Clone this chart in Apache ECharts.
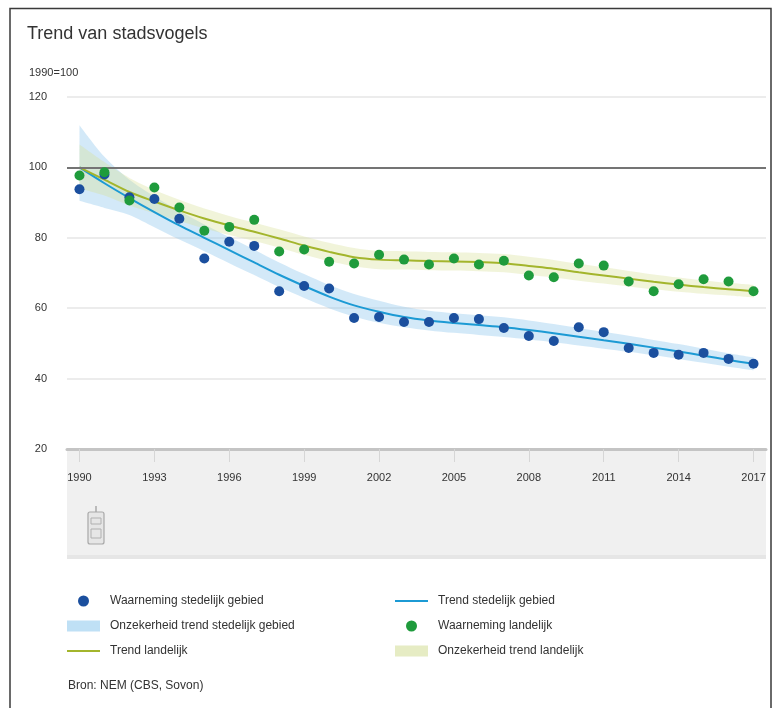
<!DOCTYPE html>
<html>
<head>
<meta charset="utf-8">
<script src="https://cdn.jsdelivr.net/npm/echarts@6/dist/echarts.min.js"></script>
<style>html,body{margin:0;padding:0;background:#fff;}#c{width:784px;height:708px;}</style>
</head>
<body>
<div id="c"></div>
<script>
var years = ['1990','1991','1992','1993','1994','1995','1996','1997','1998','1999','2000','2001','2002','2003','2004','2005','2006','2007','2008','2009','2010','2011','2012','2013','2014','2015','2016','2017'];
var stedelijkObs = [93.8, 98.0, 91.5, 91.0, 85.4, 74.1, 78.9, 77.7, 64.8, 66.3, 65.6, 57.2, 57.5, 56.1, 56.1, 57.2, 56.9, 54.4, 52.1, 50.7, 54.6, 53.2, 48.7, 47.3, 46.8, 47.3, 45.6, 44.2];
var landelijkObs = [97.7, 98.6, 90.6, 94.3, 88.6, 82.0, 83.1, 85.1, 76.1, 76.7, 73.2, 72.7, 75.2, 73.8, 72.4, 74.1, 72.4, 73.5, 69.3, 68.8, 72.7, 72.1, 67.6, 64.8, 66.8, 68.2, 67.6, 64.8];
var stedelijkTrend = [100, 95.5, 91.3, 87.3, 83.5, 80, 76.5, 73, 69.5, 66.3, 63.3, 60.8, 59, 57.5, 56.5, 55.8, 55.2, 54.6, 53.8, 52.9, 51.9, 50.9, 49.9, 48.8, 47.7, 46.5, 45.3, 44.2];
var landelijkTrend = [100, 96.5, 93, 90.3, 87.8, 85.5, 83.5, 81.7, 79.8, 77.8, 76, 74.5, 73.8, 73.6, 73.4, 73.3, 73.1, 72.8, 72, 71.2, 70.2, 69.3, 68.4, 67.5, 66.7, 66, 65.4, 64.8];
var stedelijkUpper = [112, 103, 96.5, 91.8, 87.6, 83.8, 80.2, 76.6, 73, 69.7, 66.6, 64, 62.1, 60.4, 59.3, 58.6, 58, 57.4, 56.5, 55.5, 54.4, 53.3, 52.2, 51, 49.8, 48.5, 47.2, 46];
var stedelijkLower = [90.5, 88.5, 86.5, 83, 79.5, 76.2, 72.8, 69.4, 66, 62.9, 60, 57.6, 55.9, 54.6, 53.7, 53, 52.4, 51.8, 51.1, 50.3, 49.4, 48.5, 47.6, 46.6, 45.6, 44.5, 43.4, 42.4];
var landelijkUpper = [106.5, 101.5, 97, 93.6, 90.8, 88.3, 86.2, 84.3, 82.4, 80.4, 78.6, 77.1, 76.3, 76.2, 76, 75.9, 75.7, 75.4, 74.6, 73.7, 72.6, 71.6, 70.6, 69.6, 68.7, 67.9, 67.2, 66.6];
var landelijkLower = [94, 92, 89.2, 87, 84.8, 82.7, 80.8, 79.1, 77.2, 75.2, 73.4, 71.9, 71.1, 71, 70.8, 70.7, 70.5, 70.2, 69.4, 68.7, 67.8, 67, 66.2, 65.4, 64.7, 64.1, 63.6, 63];
var yTicks = {min: 20, max: 120, interval: 20};

var C = {
  blueDot: '#1b4f9e', greenDot: '#1f9b3c',
  blueLine: '#1c9ad4', greenLine: '#a3b52c',
  blueBand: 'rgba(140,198,238,0.55)', greenBand: 'rgba(214,224,150,0.5)'
};
function diff(a, b) { return a.map(function (v, i) { return +(v - b[i]).toFixed(2); }); }

var lineIcon = 'path://M0,0L0,0M0,4.5L33,4.5L33,6.5L0,6.5ZM33,11L33,11';
var chart = echarts.init(document.getElementById('c'), null, {renderer: 'canvas'});
var legendText = {color: '#333', fontSize: 12, fontFamily: 'Liberation Sans, Arial, sans-serif', padding: [0, 0, 0, 5]};
chart.setOption({
  animation: false,
  backgroundColor: '#fff',
  title: [
    {text: 'Trend van stadsvogels', left: 22, top: 20, textStyle: {fontSize: 18, fontWeight: 'normal', color: '#333', fontFamily: 'Liberation Sans, Arial, sans-serif'}},
    {text: '1990=100', left: 24, top: 62, textStyle: {fontSize: 11, fontWeight: 'normal', color: '#333', fontFamily: 'Liberation Sans, Arial, sans-serif'}},
    {text: 'Bron: NEM (CBS, Sovon)', left: 63, top: 675, textStyle: {fontSize: 12, fontWeight: 'normal', color: '#333', fontFamily: 'Liberation Sans, Arial, sans-serif'}}
  ],
  graphic: [
    {type: 'rect', shape: {x: 67, y: 449, width: 699, height: 110}, style: {fill: '#f0f0f0'}, z: -10},
    {type: 'rect', shape: {x: 67, y: 555, width: 699, height: 4}, style: {fill: '#e6e6e6'}, z: -9},
    {type: 'rect', shape: {x: 88, y: 512, width: 16, height: 32, r: 2}, style: {fill: '#e6e6e6', stroke: '#a8a8a8', lineWidth: 1.2}, z: 5},
    {type: 'line', shape: {x1: 96, y1: 506, x2: 96, y2: 512}, style: {stroke: '#a8a8a8', lineWidth: 1.5}, z: 5},
    {type: 'rect', shape: {x: 91, y: 518, width: 10, height: 6}, style: {fill: 'none', stroke: '#b0b0b0', lineWidth: 1}, z: 5},
    {type: 'rect', shape: {x: 91, y: 529, width: 10, height: 9}, style: {fill: 'none', stroke: '#b0b0b0', lineWidth: 1}, z: 5},
    {type: 'polyline', shape: {points: [[10, 720], [10, 8.5], [771, 8.5], [771, 720]]}, style: {stroke: '#3a3a3a', lineWidth: 1.5, fill: 'none'}, z: 10}
  ],
  legend: [
    {orient: 'vertical', left: 62, top: 590, itemWidth: 33, itemHeight: 11, itemGap: 13, textStyle: legendText, selectedMode: false,
     data: [
       {name: 'Waarneming stedelijk gebied', icon: 'circle', itemStyle: {color: C.blueDot}},
       {name: 'Onzekerheid trend stedelijk gebied', icon: 'rect', itemStyle: {color: '#bfe0f5', borderWidth: 0}},
       {name: 'Trend landelijk', icon: lineIcon, itemStyle: {color: C.greenLine, borderWidth: 0}}
     ]},
    {orient: 'vertical', left: 390, top: 590, itemWidth: 33, itemHeight: 11, itemGap: 13, textStyle: legendText, selectedMode: false,
     data: [
       {name: 'Trend stedelijk gebied', icon: lineIcon, itemStyle: {color: C.blueLine, borderWidth: 0}},
       {name: 'Waarneming landelijk', icon: 'circle', itemStyle: {color: C.greenDot}},
       {name: 'Onzekerheid trend landelijk', icon: 'rect', itemStyle: {color: '#e6ecc4', borderWidth: 0}}
     ]}
  ],
  grid: {left: 67, right: 18, top: 97, height: 352, containLabel: false},
  xAxis: {
    type: 'category', data: years, boundaryGap: true,
    axisLine: {show: true, lineStyle: {color: '#c4c4c4', width: 3}},
    axisTick: {show: true, interval: 2, alignWithLabel: true, length: 13, lineStyle: {color: '#d6d6d6', width: 1}},
    axisLabel: {interval: 2, margin: 23, color: '#333', fontSize: 11, fontFamily: 'Liberation Sans, Arial, sans-serif'},
    splitLine: {show: false}
  },
  yAxis: {
    type: 'value', min: yTicks.min, max: yTicks.max, interval: yTicks.interval,
    axisLine: {show: false}, axisTick: {show: false},
    axisLabel: {margin: 20, color: '#333', fontSize: 11, fontFamily: 'Liberation Sans, Arial, sans-serif'},
    splitLine: {lineStyle: {color: '#e6e6e6', width: 1.5}}
  },
  series: [
    {name: 'sl', type: 'line', data: stedelijkLower, stack: 'sb', symbol: 'none', smooth: 0.3, lineStyle: {opacity: 0}, silent: true, z: 1},
    {name: 'Onzekerheid trend stedelijk gebied', type: 'line', data: diff(stedelijkUpper, stedelijkLower), stack: 'sb', symbol: 'none', smooth: 0.3,
     lineStyle: {opacity: 0}, areaStyle: {color: C.blueBand}, itemStyle: {color: '#bfe0f5'}, silent: true, z: 1,
     markLine: {silent: true, symbol: 'none', label: {show: false}, lineStyle: {color: '#747474', width: 2, type: 'solid'}, data: [{yAxis: 100}]}},
    {name: 'll', type: 'line', data: landelijkLower, stack: 'lb', symbol: 'none', smooth: 0.3, lineStyle: {opacity: 0}, silent: true, z: 2},
    {name: 'Onzekerheid trend landelijk', type: 'line', data: diff(landelijkUpper, landelijkLower), stack: 'lb', symbol: 'none', smooth: 0.3,
     lineStyle: {opacity: 0}, areaStyle: {color: C.greenBand}, itemStyle: {color: '#e6ecc4'}, silent: true, z: 2},
    {name: 'Trend stedelijk gebied', type: 'line', data: stedelijkTrend, symbol: 'none', smooth: 0.3, lineStyle: {color: C.blueLine, width: 2}, itemStyle: {color: C.blueLine}, z: 3},
    {name: 'Trend landelijk', type: 'line', data: landelijkTrend, symbol: 'none', smooth: 0.3, lineStyle: {color: C.greenLine, width: 2}, itemStyle: {color: C.greenLine}, z: 3},
    {name: 'Waarneming stedelijk gebied', type: 'scatter', data: stedelijkObs, symbolSize: 10, itemStyle: {color: C.blueDot, opacity: 1}, z: 4},
    {name: 'Waarneming landelijk', type: 'scatter', data: landelijkObs, symbolSize: 10, itemStyle: {color: C.greenDot, opacity: 1}, z: 5}
  ]
});
</script>
</body>
</html>
